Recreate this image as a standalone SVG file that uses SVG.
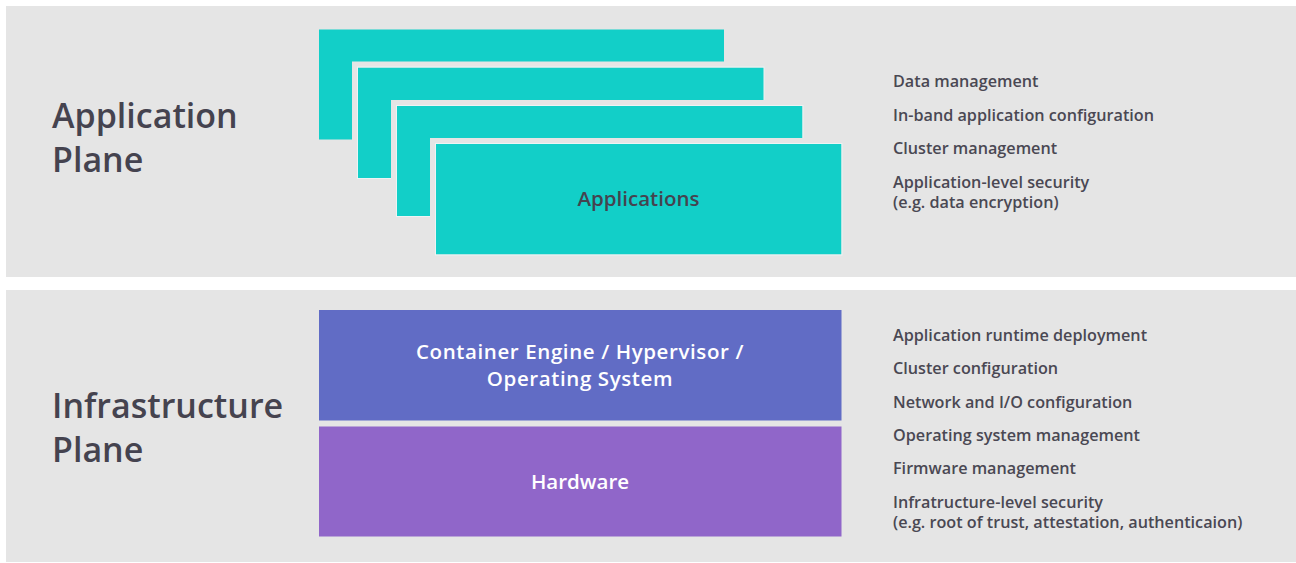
<svg xmlns="http://www.w3.org/2000/svg" width="1296" height="563" viewBox="0 0 1296 563">
  <style>
    .panel { fill: #e5e5e5; }
    .plane { font-family: "Open Sans", "Liberation Sans", sans-serif; font-weight: 600; font-size: 34px; fill: #45434f; }
    .item { font-family: "Open Sans", "Liberation Sans", sans-serif; font-weight: 600; font-size: 16.2px; fill: #4a4853; }
    .app { fill: #12cfc8; stroke: #e5e5e5; stroke-width: 12; paint-order: stroke; }
    .edge { fill: none; stroke: #ecf4f4; stroke-width: 1; }
    .label { font-family: "Open Sans", "Liberation Sans", sans-serif; font-weight: 600; font-size: 20.5px; text-anchor: middle; }
  </style>

  <rect width="1296" height="563" fill="#ffffff"/>

  <!-- Application plane -->
  <g id="application-plane">
    <rect class="panel" x="6" y="6" width="1290" height="271"/>
    <text class="plane" x="52" y="128">Application</text>
    <text class="plane" x="52" y="172">Plane</text>
  </g>

  <!-- Stacked application cards -->
  <g id="app-card-1">
    <rect class="app" x="319" y="29.5" width="405" height="110"/>
  </g>
  <g id="app-card-2">
    <rect class="app" x="358" y="67.5" width="406" height="110.5"/>
    <rect class="edge" x="357.5" y="67" width="406.5" height="111.5"/>
  </g>
  <g id="app-card-3">
    <rect class="app" x="397" y="106" width="405.5" height="110"/>
    <rect class="edge" x="396.5" y="105.5" width="406.5" height="111"/>
  </g>
  <g id="applications">
    <rect class="app" x="436" y="144" width="405.5" height="110.5"/>
    <rect class="edge" x="435.5" y="143.5" width="406.5" height="111.5"/>
    <text class="label" x="638.5" y="205.5" fill="#45434f">Applications</text>
  </g>

  <g id="application-duties">
    <text class="item" x="893" y="87">Data management</text>
    <text class="item" x="893" y="120.5">In-band application configuration</text>
    <text class="item" x="893" y="154">Cluster management</text>
    <text class="item" x="893" y="188">Application-level security</text>
    <text class="item" x="893" y="207.5">(e.g. data encryption)</text>
  </g>

  <!-- Infrastructure plane -->
  <g id="infrastructure-plane">
    <rect class="panel" x="6" y="290" width="1290" height="272"/>
    <text class="plane" x="52" y="418">Infrastructure</text>
    <text class="plane" x="52" y="462">Plane</text>
  </g>

  <g id="container-engine">
    <rect x="319" y="310" width="522.5" height="110.5" fill="#616cc5"/>
    <text class="label" x="580" y="359" fill="#ffffff" letter-spacing="0.6">Container Engine / Hypervisor /</text>
    <text class="label" x="580" y="386" fill="#ffffff" letter-spacing="0.6">Operating System</text>
  </g>

  <g id="hardware">
    <rect x="319" y="426.5" width="522.5" height="110" fill="#9066c9"/>
    <text class="label" x="580" y="489" fill="#ffffff">Hardware</text>
  </g>

  <g id="infrastructure-duties">
    <text class="item" x="893" y="340.5">Application runtime deployment</text>
    <text class="item" x="893" y="374">Cluster configuration</text>
    <text class="item" x="893" y="407.5">Network and I/O configuration</text>
    <text class="item" x="893" y="441">Operating system management</text>
    <text class="item" x="893" y="474">Firmware management</text>
    <text class="item" x="893" y="508">Infratructure-level security</text>
    <text class="item" x="893" y="528">(e.g. root of trust, attestation, authenticaion)</text>
  </g>

  <!-- no connectors in this layered view -->
  <g id="connectors"/>
</svg>
